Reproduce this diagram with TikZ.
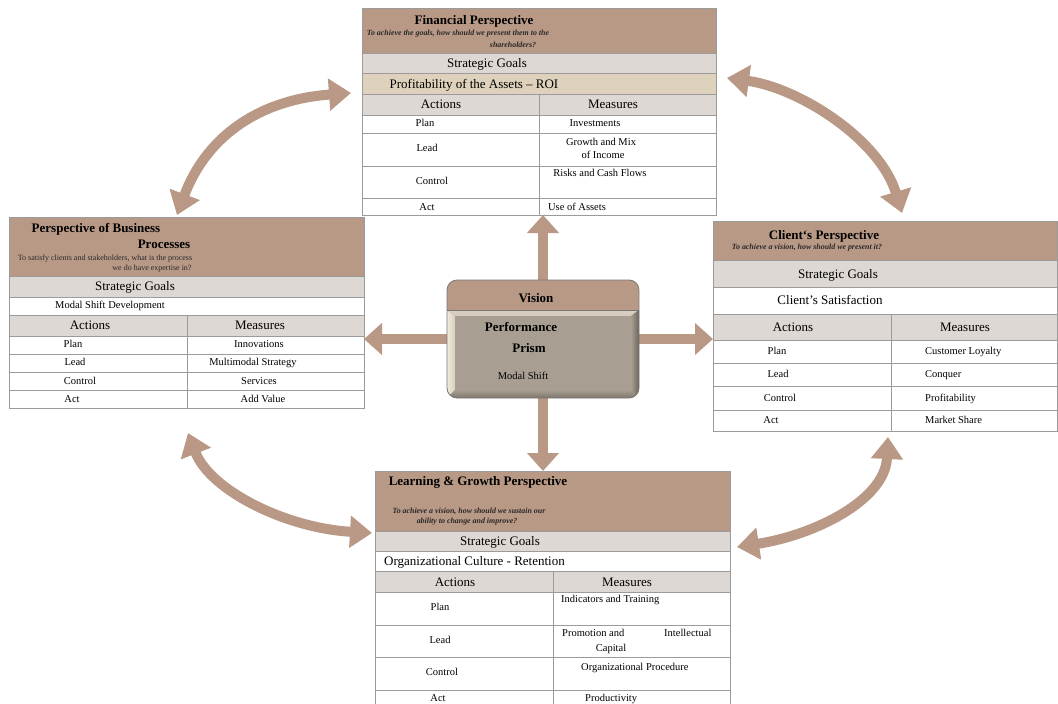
\documentclass[tikz,border=0pt]{standalone}
\usepackage{fontspec}
\setmainfont{Liberation Serif}
\usetikzlibrary{arrows.meta,calc}
\definecolor{hdrc}{RGB}{184,153,134}
\definecolor{grayc}{RGB}{221,216,212}
\definecolor{beigec}{RGB}{222,210,188}
\definecolor{linec}{RGB}{155,155,155}
\definecolor{arrc}{RGB}{185,152,133}
\definecolor{subc}{RGB}{40,40,40}
\definecolor{visline}{RGB}{120,120,120}
\definecolor{bodydark}{RGB}{120,112,102}
\definecolor{bevtop}{RGB}{214,207,192}
\definecolor{bevleft}{RGB}{240,234,216}
\definecolor{bevright}{RGB}{108,100,90}
\definecolor{bevbot}{RGB}{125,117,107}
\definecolor{facec}{RGB}{168,159,146}
\begin{document}
\begin{tikzpicture}[x=1pt,y=-1pt,
  cell/.style={draw=linec, line width=0.8pt},
  big/.style={font=\fontsize{13}{15}\selectfont, inner sep=0pt, text height=9pt, text depth=0pt},
  sm/.style={font=\fontsize{10.5}{12}\selectfont, inner sep=0pt, text height=7.5pt, text depth=0pt},
  ttl/.style={font=\bfseries\fontsize{13}{15}\selectfont, inner sep=0pt, text height=9pt, text depth=0pt},
  sub/.style={font=\bfseries\itshape\fontsize{7.9}{9}\selectfont, inner sep=0pt, text=subc, text height=5.5pt, text depth=0pt},
  subr/.style={font=\fontsize{8}{9}\selectfont, inner sep=0pt, text=subc, text height=5.5pt, text depth=0pt},
  area/.style={inner sep=0pt, outer sep=0pt, anchor=north west},
  bigarrow/.style={draw=arrc, line width=10pt, -{Triangle[width=31pt,length=18pt]}},
  dblarrow/.style={draw=arrc, line width=10pt, {Triangle[width=31pt,length=22pt]}-{Triangle[width=31pt,length=22pt]}},
]
\useasboundingbox (0,0) rectangle (1058,704);
\fill[white] (0,0) rectangle (1058,704);

% ---------- named areas ----------
\node[area, minimum width=354pt, minimum height=207pt] (fin) at (362,8) {};
\node[area, minimum width=355pt, minimum height=191pt] (bus) at (9,217) {};
\node[area, minimum width=344pt, minimum height=210pt] (cli) at (713,221) {};
\node[area, minimum width=355pt, minimum height=233pt] (lrn) at (375,471) {};
\node[area, minimum width=192pt, minimum height=118pt] (vis) at (447,280) {};

% ---------- connectors ----------
\draw[bigarrow] (vis.north) -- (vis.north |- fin.south);
\draw[bigarrow] (vis.south) -- (vis.south |- lrn.north);
\draw[bigarrow] (vis.west) -- (vis.west -| bus.east);
\draw[bigarrow] (vis.east) -- (vis.east -| cli.west);

\coordinate (tlA) at (177,215); \coordinate (tlB) at (351,93);
\coordinate (trA) at (727,78);  \coordinate (trB) at (902,213);
\coordinate (blA) at (188,433); \coordinate (blB) at (372,533);
\coordinate (brA) at (888,437); \coordinate (brB) at (737,547);
\draw[dblarrow] (tlA) .. controls (205,140) and (255,100) .. (tlB);
\draw[dblarrow] (trA) .. controls (800,88) and (880,140) .. (trB);
\draw[dblarrow] (blA) .. controls (210,490) and (285,528) .. (blB);
\draw[dblarrow] (brA) .. controls (885,500) and (815,535) .. (brB);

% ---------- Financial ----------
\filldraw[cell, fill=hdrc]   (362,8) rectangle (716,53);
\filldraw[cell, fill=grayc]  (362,53) rectangle (716,73);
\filldraw[cell, fill=beigec] (362,73) rectangle (716,94);
\filldraw[cell, fill=grayc]  (362,94) rectangle (716,115);
\filldraw[cell, fill=white]  (362,115) rectangle (716,133);
\filldraw[cell, fill=white]  (362,133) rectangle (716,166);
\filldraw[cell, fill=white]  (362,166) rectangle (716,198);
\filldraw[cell, fill=white]  (362,198) rectangle (716,215);
\draw[cell] (539,94) -- (539,215);
\node[ttl] (fT) at (474,20) {Financial Perspective};
\node[sub] (fS1) at (458,33) {To achieve the goals, how should we present them to the};
\node[sub] (fS2) at (513,45) {shareholders?};
\node[big] (fG) at (487,63) {Strategic Goals};
\node[big] (fR) at (474,84) {Profitability of the Assets – ROI};
\node[big] (fA) at (441,104) {Actions};
\node[big] (fM) at (613,104) {Measures};
\node[sm] (f1a) at (425,123) {Plan};
\node[sm] (f1b) at (595,123) {Investments};
\node[sm] (f2a) at (427,148) {Lead};
\node[sm] (f2b) at (601,142) {Growth and Mix};
\node[sm] (f2c) at (603,155) {of Income};
\node[sm] (f3a) at (432,181) {Control};
\node[sm] (f3b) at (600,173) {Risks and Cash Flows};
\node[sm] (f4a) at (427,207) {Act};
\node[sm] (f4b) at (577,207) {Use of Assets};

% ---------- Business ----------
\filldraw[cell, fill=hdrc]  (9,217) rectangle (364,276);
\filldraw[cell, fill=grayc] (9,276) rectangle (364,297);
\filldraw[cell, fill=white] (9,297) rectangle (364,315);
\filldraw[cell, fill=grayc] (9,315) rectangle (364,336);
\filldraw[cell, fill=white] (9,336) rectangle (364,354);
\filldraw[cell, fill=white] (9,354) rectangle (364,372);
\filldraw[cell, fill=white] (9,372) rectangle (364,390);
\filldraw[cell, fill=white] (9,390) rectangle (364,408);
\draw[cell] (187,315) -- (187,408);
\node[ttl] (bT1) at (96,228) {Perspective of Business};
\node[ttl] (bT2) at (164,244) {Processes};
\node[subr] (bS1) at (105,258) {To satisfy clients and stakeholders, what is the process};
\node[subr] (bS2) at (152,268) {we do have expertise in?};
\node[big] (bG) at (135,286) {Strategic Goals};
\node[sm] (bR) at (110,305) {Modal Shift Development};
\node[big] (bA) at (90,325) {Actions};
\node[big] (bM) at (260,325) {Measures};
\node[sm] (b1a) at (73,344) {Plan};
\node[sm] (b1b) at (259,344) {Innovations};
\node[sm] (b2a) at (75,362) {Lead};
\node[sm] (b2b) at (253,362) {Multimodal Strategy};
\node[sm] (b3a) at (80,381) {Control};
\node[sm] (b3b) at (259,381) {Services};
\node[sm] (b4a) at (72,399) {Act};
\node[sm] (b4b) at (263,399) {Add Value};

% ---------- Client ----------
\filldraw[cell, fill=hdrc]  (713,221) rectangle (1057,260);
\filldraw[cell, fill=grayc] (713,260) rectangle (1057,287);
\filldraw[cell, fill=white] (713,287) rectangle (1057,314);
\filldraw[cell, fill=grayc] (713,314) rectangle (1057,340);
\filldraw[cell, fill=white] (713,340) rectangle (1057,363);
\filldraw[cell, fill=white] (713,363) rectangle (1057,386);
\filldraw[cell, fill=white] (713,386) rectangle (1057,410);
\filldraw[cell, fill=white] (713,410) rectangle (1057,431);
\draw[cell] (891,314) -- (891,431);
\node[ttl] (cT) at (824,235) {Client‘s Perspective};
\node[sub] (cS) at (807,247) {To achieve a vision, how should we present it?};
\node[big] (cG) at (838,274) {Strategic Goals};
\node[big] (cR) at (830,300) {Client’s Satisfaction};
\node[big] (cA) at (793,327) {Actions};
\node[big] (cM) at (965,327) {Measures};
\node[sm] (c1a) at (777,351) {Plan};
\node[sm, anchor=west] (c1b) at (925,351) {Customer Loyalty};
\node[sm] (c2a) at (778,374) {Lead};
\node[sm, anchor=west] (c2b) at (925,374) {Conquer};
\node[sm] (c3a) at (780,398) {Control};
\node[sm, anchor=west] (c3b) at (925,398) {Profitability};
\node[sm] (c4a) at (771,420) {Act};
\node[sm, anchor=west] (c4b) at (925,420) {Market Share};

% ---------- Learning ----------
\filldraw[cell, fill=hdrc]  (375,471) rectangle (730,531);
\filldraw[cell, fill=grayc] (375,531) rectangle (730,551);
\filldraw[cell, fill=white] (375,551) rectangle (730,571);
\filldraw[cell, fill=grayc] (375,571) rectangle (730,592);
\filldraw[cell, fill=white] (375,592) rectangle (730,625);
\filldraw[cell, fill=white] (375,625) rectangle (730,657);
\filldraw[cell, fill=white] (375,657) rectangle (730,690);
\filldraw[cell, fill=white] (375,690) rectangle (730,706);
\draw[cell] (553,571) -- (553,706);
\node[ttl] (lT) at (478,481) {Learning \& Growth Perspective};
\node[sub] (lS1) at (469,511) {To achieve a vision, how should we sustain our};
\node[sub] (lS2) at (467,521) {ability to change and improve?};
\node[big] (lG) at (500,541) {Strategic Goals};
\node[big, anchor=west] (lR) at (384,561) {Organizational Culture - Retention};
\node[big] (lA) at (455,582) {Actions};
\node[big] (lM) at (627,582) {Measures};
\node[sm] (l1a) at (440,607) {Plan};
\node[sm, anchor=west] (l1b) at (561,599) {Indicators and Training};
\node[sm] (l2a) at (440,640) {Lead};
\node[sm, anchor=west] (l2b) at (562,633) {Promotion and};
\node[sm, anchor=west] (l2c) at (664,633) {Intellectual};
\node[sm] (l2d) at (611,648) {Capital};
\node[sm] (l3a) at (442,672) {Control};
\node[sm, anchor=west] (l3b) at (581,667) {Organizational Procedure};
\node[sm] (l4a) at (438,698) {Act};
\node[sm, anchor=west] (l4b) at (585,698) {Productivity};

% ---------- Vision ----------
\begin{scope}
  \clip[rounded corners=10pt] (447,280) rectangle (639,398);
  \fill[hdrc] (447,280) rectangle (639,310);
  \fill[bodydark] (447,310) rectangle (639,398);
  \fill[bevtop] (447,310) -- (639,310) -- (631,316) -- (455,316) -- cycle;
  \shade[left color=bevleft, right color=bevtop] (447,310) -- (455,316) -- (455,390) -- (447,398) -- cycle;
  \shade[left color=facec, right color=bevright] (639,310) -- (631,316) -- (631,390) -- (639,398) -- cycle;
  \shade[top color=facec, bottom color=bevbot] (447,398) -- (455,390) -- (631,390) -- (639,398) -- cycle;
  \fill[facec] (455,316) rectangle (631,390);
\end{scope}
\draw[visline, line width=0.8pt, rounded corners=10pt] (447,280) rectangle (639,398);
\draw[visline, line width=0.8pt] (447,310) -- (639,310);
\node[ttl] (vT) at (536,298) {Vision};
\node[ttl] (vP1) at (521,327) {Performance};
\node[ttl] (vP2) at (529,348) {Prism};
\node[sm] (vM) at (523,376) {Modal Shift};
\end{tikzpicture}
\end{document}
